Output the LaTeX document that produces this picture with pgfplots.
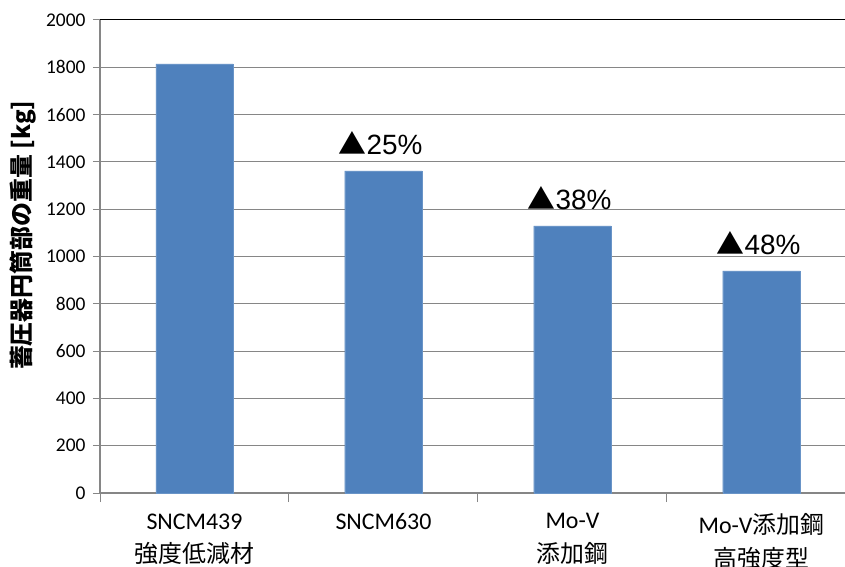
\documentclass[border=0pt]{standalone}
\usepackage{pgfplots}
\pgfplotsset{compat=1.18}
\usepackage{fontspec}
\setmainfont{Carlito}
\newfontfamily\cjk{Noto Sans CJK JP}
\newfontfamily\arial{Liberation Sans}
\definecolor{barblue}{HTML}{4F81BD}
\definecolor{gridgray}{HTML}{868686}
\begin{document}
\begin{tikzpicture}
\begin{axis}[
  at={(100bp,74bp)}, anchor=south west,
  scale only axis, width=745bp, height=473bp,
  xmin=-0.5, xmax=3.442, ymin=0, ymax=2000,
  axis x line*=bottom, axis y line*=left,
  axis line style={gridgray, line width=1.2bp},
  ytick={0,200,...,1800},
  extra y ticks={2000},
  extra y tick style={major grid style={black, line width=1bp}},
  ymajorgrids,
  major grid style={gridgray, line width=1bp},
  tick align=outside,
  major tick length=7bp,
  minor tick length=9bp,
  major y tick style={gridgray, line width=1bp},
  major x tick style={draw=none},
  minor x tick style={gridgray, line width=1bp},
  xtick={0,1,2,3},
  minor xtick={-0.5,0.5,1.5,2.5},
  /pgf/number format/assume math mode=true,
  /pgf/number format/1000 sep={},
  xticklabels={{SNCM439\\{\cjk 強度低減材}},{SNCM630},{Mo-V\\{\cjk 添加鋼}},{Mo-V{\cjk 添加鋼}\\{\cjk 高強度型}}},
  xticklabel style={align=center, anchor=north, font=\fontsize{24}{34}\selectfont, yshift=-10bp},
  yticklabel style={font=\fontsize{19.5}{20}\selectfont, anchor=east, xshift=-4bp},
  ylabel={\cjk\bfseries 蓄圧器円筒部の重量 [kg]},
  ylabel style={at={(axis description cs:-0.1034,0.545)}, anchor=center, rotate=0, font=\fontsize{24}{26}\selectfont},
  clip=false,
]
\addplot[ybar, bar width=0.41, fill=barblue, draw=barblue!85!white]
  coordinates {(0,1814) (1,1362) (2,1129) (3,939)};
\node[anchor=base, font=\arial\fontsize{28}{30}\selectfont, yshift=16bp, xshift=-3bp] at (axis cs:1,1362) {{\cjk ▲}25\%};
\node[anchor=base, font=\arial\fontsize{28}{30}\selectfont, yshift=16bp, xshift=-3bp] at (axis cs:2,1129) {{\cjk ▲}38\%};
\node[anchor=base, font=\arial\fontsize{28}{30}\selectfont, yshift=16bp, xshift=-3bp] at (axis cs:3,939) {{\cjk ▲}48\%};
\end{axis}
\pgfresetboundingbox
\useasboundingbox (0,0) rectangle (845bp,567bp);
\end{tikzpicture}
\end{document}
